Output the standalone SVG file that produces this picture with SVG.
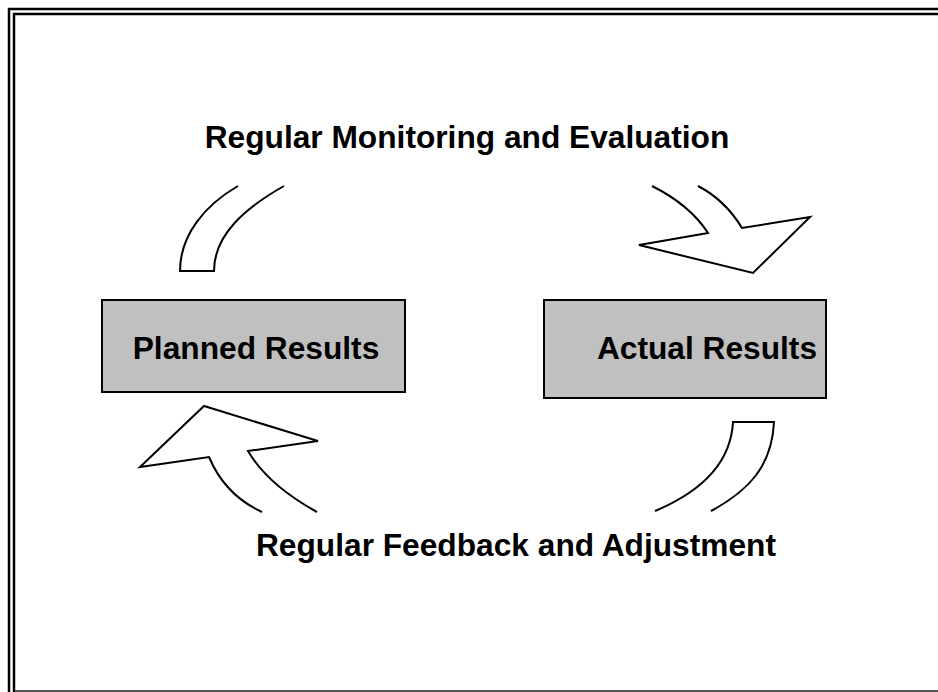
<svg xmlns="http://www.w3.org/2000/svg" width="938" height="692" viewBox="0 0 938 692">
  <style>
    .frame { fill: none; stroke: #000; stroke-width: 2.5; }
    .box { fill: #c0c0c0; stroke: #000; stroke-width: 2; }
    .label { font-family: "Liberation Sans", Arial, sans-serif; font-weight: bold; font-size: 31.7px; fill: #000; text-anchor: middle; }
    .band { fill: #fff; stroke: none; }
    .edge { fill: none; stroke: #000; stroke-width: 2; stroke-linejoin: miter; }
  </style>
  <rect width="938" height="692" fill="#fff"/>

  <!-- double page frame -->
  <g id="frame">
    <path class="frame" d="M938,9 H9 V692"/>
    <path class="frame" d="M938,14 H14 V692"/>
    <path d="M15,691 H938" stroke="#555" stroke-width="2" fill="none"/>
  </g>

  <!-- cycle arrows -->
  <g id="connectors">
    <!-- upper left band rising from Planned Results -->
    <g id="arrow-top-left">
      <path class="band" d="M238,186 C205,205 180,235 180,271 H214 C214,235 245,208 284,186 Z"/>
      <path class="edge" d="M238,186 C205,205 180,235 180,271 H214 C214,235 245,208 284,186"/>
    </g>
    <!-- upper right arrow into Actual Results -->
    <g id="arrow-top-right">
      <path class="band" d="M652,186 Q690,205 708,233 L639,245 L753,273 L810,217 L742,228 Q725,200 698,186 Z"/>
      <path class="edge" d="M652,186 Q690,205 708,233 L639,245 L753,273 L810,217 L742,228 Q725,200 698,186"/>
    </g>
    <!-- lower right band leaving Actual Results -->
    <g id="arrow-bottom-right">
      <path class="band" d="M655,511 C705,490 731,460 733,422 H774 C772,465 750,490 711,511 Z"/>
      <path class="edge" d="M655,511 C705,490 731,460 733,422 H774 C772,465 750,490 711,511"/>
    </g>
    <!-- lower left arrow back into Planned Results -->
    <g id="arrow-bottom-left">
      <path class="band" d="M262,512 Q225,495 209,457 L140,467 L204,406 L318,441 L248,451 Q268,485 317,512 Z"/>
      <path class="edge" d="M262,512 Q225,495 209,457 L140,467 L204,406 L318,441 L248,451 Q268,485 317,512"/>
    </g>
  </g>

  <g id="planned-results">
    <rect class="box" x="102" y="300" width="303" height="92"/>
    <text class="label" x="256" y="359">Planned Results</text>
  </g>

  <g id="actual-results">
    <rect class="box" x="544" y="300" width="282" height="98"/>
    <text class="label" x="707" y="359">Actual Results</text>
  </g>

  <g id="label-monitoring">
    <text class="label" x="467" y="148">Regular Monitoring and Evaluation</text>
  </g>

  <g id="label-feedback">
    <text class="label" x="516" y="556">Regular Feedback and Adjustment</text>
  </g>
</svg>
